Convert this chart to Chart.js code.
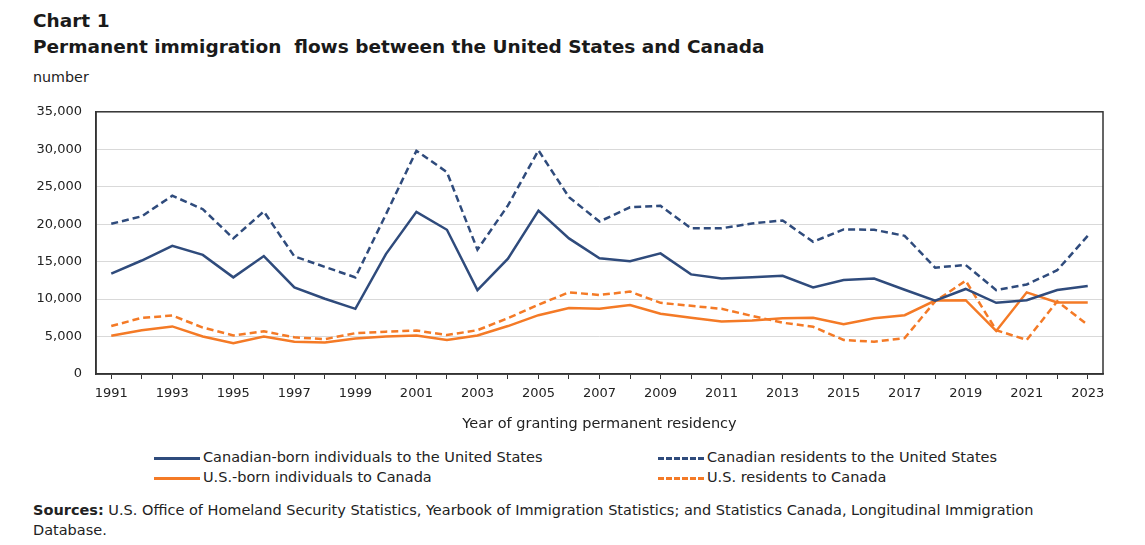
<!DOCTYPE html>
<html>
<head>
<meta charset="utf-8">
<script src="https://cdn.jsdelivr.net/npm/chart.js@4"></script>
<style>
  body { margin: 0; background: #fff; font-family: "DejaVu Sans", Verdana, sans-serif; color: #222; }
  .wrap { position: relative; width: 1145px; height: 545px; overflow: hidden; }
  .title { position: absolute; left: 33px; top: 8px; font-weight: bold; font-size: 18.5px; line-height: 26px; color: #1a1a1a; white-space: pre; }
  .unit { position: absolute; left: 33px; top: 69px; font-size: 14.3px; }
  canvas { position: absolute; left: 0; top: 90px; }
  .legend { position: absolute; top: 447px; font-size: 14.5px; line-height: 20px; }
  .legend div { position: absolute; white-space: nowrap; }
  .legend .sw { display: inline-block; width: 46px; height: 0; margin-right: 3px; vertical-align: middle; border-top-width: 3px; }
  .sources { position: absolute; left: 33px; top: 500px; font-size: 14.5px; line-height: 20px; white-space: nowrap; }
</style>
</head>
<body>
<div class="wrap">
  <div class="title">Chart 1
Permanent immigration  flows between the United States and Canada</div>
  <div class="unit">number</div>
  <canvas id="myChart" width="1145" height="350"></canvas>
  <div class="legend" id="legend"></div>
  <div class="sources"><b>Sources:</b> U.S. Office of Homeland Security Statistics, Yearbook of Immigration Statistics; and Statistics Canada, Longitudinal Immigration<br>Database.</div>
</div>
<script>
const years = ['1991','1992','1993','1994','1995','1996','1997','1998','1999','2000','2001','2002','2003','2004','2005','2006',
  '2007','2008','2009','2010','2011','2012','2013','2014','2015','2016','2017','2018','2019','2020','2021','2022','2023'];
const canadianBorn = [13400,15150,17100,15900,12900,15750,11550,10050,8700,16000,21650,19250,
  11200,15400,21800,18100,15450,15050,16100,13300,12750,12900,13100,11550,12550,12750,11250,9800,11350,9500,9850,11200,11750];
const canadianResidents = [20050,21050,23800,22000,18100,21700,15700,14300,12900,21300,29800,26950,
  16600,22500,29850,23600,20350,22250,22450,19450,19450,20100,20500,17650,19300,19250,18450,14200,14550,11200,11950,13850,18450];
const usBorn = [5100,5850,6350,5000,4100,5000,4300,4200,4750,5000,5150,4550,
  5150,6400,7850,8800,8700,9200,8050,7500,7000,7150,7450,7500,6650,7450,7850,9800,9850,5750,10900,9550,9550];
const usResidents = [6400,7500,7800,6200,5150,5700,4900,4650,5450,5650,5800,5200,
  5850,7450,9250,10900,10550,11000,9500,9100,8700,7750,6850,6300,4550,4300,4800,9700,12450,5850,4550,9700,6550];
const yTicks = [0,5000,10000,15000,20000,25000,30000,35000];

const navy = '#2f4b7c';
const orange = '#f47a26';
const dash = [7, 4];

const series = [
  { label: 'Canadian-born individuals to the United States', data: canadianBorn, color: navy, dashed: false, left: 154, row: 0 },
  { label: 'Canadian residents to the United States', data: canadianResidents, color: navy, dashed: true, left: 658, row: 0 },
  { label: 'U.S.-born individuals to Canada', data: usBorn, color: orange, dashed: false, left: 154, row: 1 },
  { label: 'U.S. residents to Canada', data: usResidents, color: orange, dashed: true, left: 658, row: 1 }
];

// legend in html, two columns
const legend = document.getElementById('legend');
series.forEach(s => {
  const item = document.createElement('div');
  item.style.left = s.left + 'px';
  item.style.top = (s.row * 20) + 'px';
  item.innerHTML = `<span class="sw" style="border-top-style:${s.dashed ? 'dashed' : 'solid'};border-top-color:${s.color}"></span>${s.label}`;
  legend.appendChild(item);
});

// box round the plot area
const plotBorder = {
  id: 'plotBorder',
  afterDatasetsDraw(chart) {
    const a = chart.chartArea;
    const c = chart.ctx;
    c.save();
    c.strokeStyle = '#333';
    c.lineWidth = 1.5;
    c.strokeRect(a.left, a.top, a.right - a.left, a.bottom - a.top);
    c.restore();
  }
};

const ctx = document.getElementById('myChart');
new Chart(ctx, {
  type: 'line',
  data: {
    labels: years,
    datasets: series.map(s => ({
      label: s.label,
      data: s.data,
      borderColor: s.color,
      backgroundColor: s.color,
      borderWidth: 2.5,
      borderDash: s.dashed ? dash : [],
      pointRadius: 0,
      tension: 0,
      fill: false
    }))
  },
  options: {
    responsive: false,
    animation: false,
    devicePixelRatio: 1,
    layout: { padding: { left: 0, right: 42, top: 18, bottom: 0 } },
    plugins: { legend: { display: false }, tooltip: { enabled: false } },
    scales: {
      x: {
        offset: true,
        grid: { drawOnChartArea: false, drawTicks: true, tickLength: 5, color: '#333', lineWidth: 1 },
        border: { color: '#333', width: 1.5 },
        ticks: {
          autoSkip: false, maxRotation: 0, padding: 7, color: '#222',
          font: { family: 'DejaVu Sans', size: 13 },
          callback: (v, i) => i % 2 === 0 ? years[i] : ''
        },
        title: {
          display: true, text: 'Year of granting permanent residency', color: '#222',
          font: { family: 'DejaVu Sans', size: 14.5 }, padding: { top: 0, bottom: 7 }
        },
        afterFit: scale => { scale.height = 66; }
      },
      y: {
        min: 0, max: 35000,
        afterBuildTicks: scale => { scale.ticks = yTicks.map(v => ({ value: v })); },
        grid: { color: '#d9d9d9', lineWidth: 1, drawTicks: false },
        border: { color: '#333', width: 1.5 },
        ticks: {
          padding: 14, color: '#222',
          font: { family: 'DejaVu Sans', size: 13 },
          callback: v => v.toLocaleString('en-US')
        },
        afterFit: scale => { scale.width = 96; }
      }
    }
  },
  plugins: [plotBorder]
});
</script>
</body>
</html>
